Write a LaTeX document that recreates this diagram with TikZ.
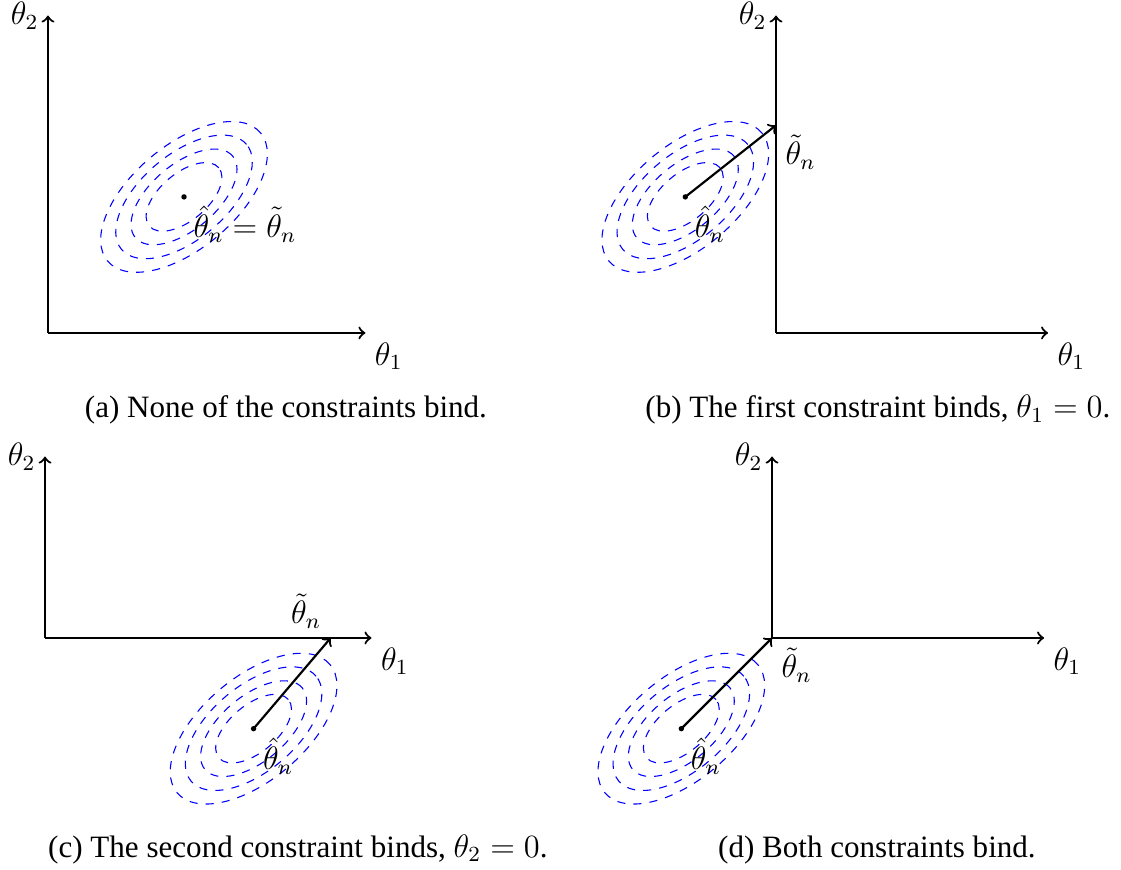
\documentclass[tikz,border=0pt]{standalone}
\usepackage{fontspec}
\setmainfont{Liberation Serif}
\begin{document}
\begin{tikzpicture}[x=1.18cm, y=1.18cm, font=\fontsize{11.5}{14}\selectfont]
    % Estilos
    \tikzstyle{axis} = [thick,->]
    \tikzstyle{proj} = [thick,->]
    \tikzstyle{contour} = [blue, dashed, thin]
    \tikzstyle{caption} = [anchor=base]

    \useasboundingbox (0,0) rectangle (12.36,-9.59);

    % (a) ninguna restriccion
    \begin{scope}[shift={(0.529,-3.671)}]
        \coordinate (a-o) at (0,0);
        \coordinate (a-x) at (3.5,0);
        \coordinate (a-y) at (0,3.5);
        \coordinate (a-hat) at (1.5,1.5);
        \foreach \r/\s in {0.5/0.26,0.7/0.36,0.9/0.47,1.1/0.57}
            \draw [contour, rotate around={40:(a-hat)}] (a-hat) ellipse [x radius=\r, y radius=\s];
        \draw [axis] (a-o) -- (a-x);
        \draw [axis] (a-o) -- (a-y);
        \node (a-t1) [below right] at (a-x) {$\theta_1$};
        \node (a-t2) [left] at (a-y) {$\theta_2$};
        \fill (a-hat) circle (1pt);
        \node (a-lab) [below right] at (a-hat) {$\hat{\theta}_n = \tilde{\theta}_n$};
    \end{scope}

    % (b) theta_1 = 0
    \begin{scope}[shift={(8.556,-3.671)}]
        \coordinate (b-o) at (0,0);
        \coordinate (b-x) at (3,0);
        \coordinate (b-y) at (0,3.5);
        \coordinate (b-hat) at (-1,1.5);
        \coordinate (b-tilde) at (0,2.29);
        \foreach \r/\s in {0.5/0.26,0.7/0.36,0.9/0.47,1.1/0.57}
            \draw [contour, rotate around={40:(b-hat)}] (b-hat) ellipse [x radius=\r, y radius=\s];
        \draw [axis] (b-o) -- (b-x);
        \draw [axis] (b-o) -- (b-y);
        \node (b-t1) [below right] at (b-x) {$\theta_1$};
        \node (b-t2) [left] at (b-y) {$\theta_2$};
        \fill (b-hat) circle (1pt);
        \draw [proj] (b-hat) -- (b-tilde);
        \node (b-lab1) [below right] at (b-hat) {$\hat{\theta}_n$};
        \node (b-lab2) [below right] at (b-tilde) {$\tilde{\theta}_n$};
    \end{scope}

    % (c) theta_2 = 0
    \begin{scope}[shift={(0.496,-7.034)}]
        \coordinate (c-o) at (0,0);
        \coordinate (c-x) at (3.6,0);
        \coordinate (c-y) at (0,2);
        \coordinate (c-hat) at (2.3,-1);
        \coordinate (c-tilde) at (3.15,0);
        \foreach \r/\s in {0.5/0.26,0.7/0.36,0.9/0.47,1.1/0.57}
            \draw [contour, rotate around={40:(c-hat)}] (c-hat) ellipse [x radius=\r, y radius=\s];
        \draw [axis] (c-o) -- (c-x);
        \draw [axis] (c-o) -- (c-y);
        \node (c-t1) [below right] at (c-x) {$\theta_1$};
        \node (c-t2) [left] at (c-y) {$\theta_2$};
        \fill (c-hat) circle (1pt);
        \draw [proj] (c-hat) -- (c-tilde);
        \node (c-lab1) [below right] at (c-hat) {$\hat{\theta}_n$};
        \node (c-lab2) [above left] at (c-tilde) {$\tilde{\theta}_n$};
    \end{scope}

    % (d) ambas
    \begin{scope}[shift={(8.512,-7.034)}]
        \coordinate (d-o) at (0,0);
        \coordinate (d-x) at (3,0);
        \coordinate (d-y) at (0,2);
        \coordinate (d-hat) at (-1,-1);
        \foreach \r/\s in {0.5/0.26,0.7/0.36,0.9/0.47,1.1/0.57}
            \draw [contour, rotate around={40:(d-hat)}] (d-hat) ellipse [x radius=\r, y radius=\s];
        \draw [axis] (d-o) -- (d-x);
        \draw [axis] (d-o) -- (d-y);
        \node (d-t1) [below right] at (d-x) {$\theta_1$};
        \node (d-t2) [left] at (d-y) {$\theta_2$};
        \fill (d-hat) circle (1pt);
        \draw [proj] (d-hat) -- (d-o);
        \node (d-lab1) [below right] at (d-hat) {$\hat{\theta}_n$};
        \node (d-lab2) [below right] at (d-o) {$\tilde{\theta}_n$};
    \end{scope}

    % Leyendas
    \node (cap-a) [caption] at (3.153,-4.608) {(a) None of the constraints bind.};
    \node (cap-b) [caption] at (9.680,-4.608) {(b) The first constraint binds, $\theta_1 = 0$.};
    \node (cap-c) [caption] at (3.285,-9.449) {(c) The second constraint binds, $\theta_2 = 0$.};
    \node (cap-d) [caption] at (9.669,-9.449) {(d) Both constraints bind.};
\end{tikzpicture}
\end{document}
